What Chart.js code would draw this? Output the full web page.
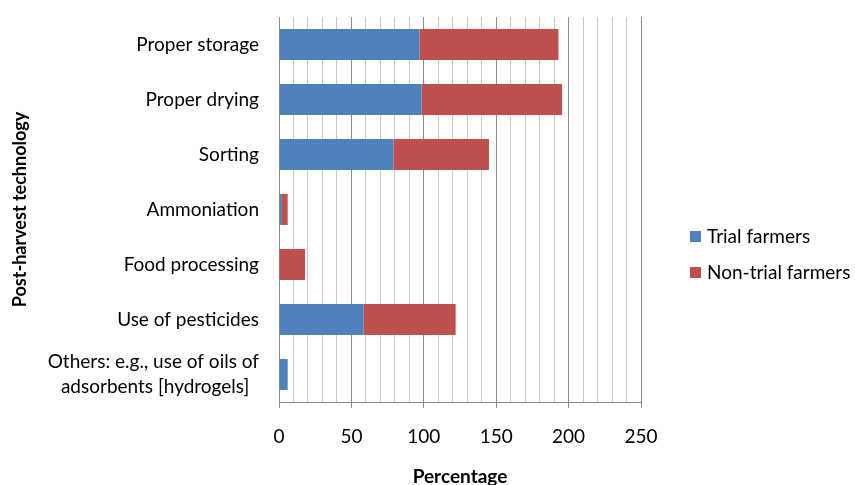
<!DOCTYPE html>
<html>
<head>
<meta charset="utf-8">
<script src="https://cdn.jsdelivr.net/npm/chart.js@4/dist/chart.umd.min.js"></script>
<style>
  html, body { margin: 0; padding: 0; background: #fff; }
  #wrap { width: 855px; height: 485px; position: relative; }
</style>
</head>
<body>
<div id="wrap"><canvas id="c" width="855" height="485"></canvas></div>
<script>
// Post-harvest technologies used, by farmer group (percentage)
const categories = [
  'Proper storage',
  'Proper drying',
  'Sorting',
  'Ammoniation',
  'Food processing',
  'Use of pesticides',
  ['Others: e.g., use of oils of', 'adsorbents [hydrogels]  ']
];
const trialFarmers    = [97, 98.5, 79, 2, 0, 58.5, 6];
const nonTrialFarmers = [96, 97, 66, 4, 18, 63.5, 0];
const seriesNames = ['Trial farmers', 'Non-trial farmers'];
const seriesColors = ['#4F81BD', '#C0504D'];
const xMin = 0, xMax = 250, xMinorStep = 10, xMajorStep = 50;

const FONT = 'Lato, "Open Sans", sans-serif';
const FONT_SIZE = 19;

// Legend drawn to the right of the plot
const sideLegend = {
  id: 'sideLegend',
  afterDraw(chart) {
    const ctx = chart.ctx;
    const area = chart.chartArea;
    const x0 = area.right + 49;
    const ys = [236.5, 272.5];
    ctx.save();
    ctx.font = FONT_SIZE + 'px ' + FONT;
    ctx.textBaseline = 'middle';
    ctx.textAlign = 'left';
    chart.data.datasets.forEach((ds, i) => {
      ctx.fillStyle = ds.backgroundColor;
      ctx.fillRect(x0, ys[i] - 5.5, 11, 11);
      ctx.fillStyle = '#000';
      ctx.fillText(ds.label, x0 + 17, ys[i]);
    });
    ctx.restore();
  }
};

new Chart(document.getElementById('c'), {
  type: 'bar',
  data: {
    labels: categories,
    datasets: [
      { label: seriesNames[0], data: trialFarmers, backgroundColor: seriesColors[0] },
      { label: seriesNames[1], data: nonTrialFarmers, backgroundColor: seriesColors[1] }
    ]
  },
  options: {
    indexAxis: 'y',
    responsive: false,
    animation: false,
    devicePixelRatio: 1,
    barPercentage: 0.5636,
    categoryPercentage: 1,
    layout: { padding: { top: 17, right: 214, bottom: 0, left: 0 } },
    plugins: {
      legend: { display: false },
      tooltip: { enabled: false }
    },
    scales: {
      x: {
        stacked: true,
        min: xMin,
        max: xMax,
        afterFit(scale) { scale.height = 83; },
        ticks: {
          stepSize: xMinorStep,
          autoSkip: false,
          maxRotation: 0,
          padding: 17,
          color: '#000',
          font: { family: FONT, size: FONT_SIZE },
          callback: (v) => (v % xMajorStep === 0 ? String(v) : '')
        },
        grid: {
          drawTicks: true,
          tickLength: 6,
          lineWidth: 1,
          color: (c) => (c.tick && c.tick.value % xMajorStep === 0 ? '#8C8C8C' : '#C8C8C8'),
          tickColor: (c) => (c.tick && c.tick.value % xMajorStep === 0 ? '#8C8C8C' : 'rgba(0,0,0,0)')
        },
        border: { display: true, color: '#8C8C8C', width: 1 },
        title: {
          display: true,
          text: 'Percentage',
          color: '#000',
          font: { family: FONT, size: FONT_SIZE, weight: 'bold', lineHeight: 0.9 },
          padding: { top: 0, bottom: 0 }
        }
      },
      y: {
        stacked: true,
        afterFit(scale) {
          scale.width = 279;
          scale.paddingTop = 0;
          scale.paddingBottom = 0;
        },
        ticks: {
          autoSkip: false,
          padding: 20,
          color: '#000',
          font: { family: FONT, size: FONT_SIZE, lineHeight: 1.3 }
        },
        grid: { display: false, drawTicks: false },
        border: { display: true, color: '#8C8C8C', width: 1 },
        title: {
          display: true,
          text: 'Post-harvest technology',
          color: '#000',
          font: { family: FONT, size: FONT_SIZE - 1, weight: 'bold' },
          padding: { top: 9, bottom: 0 }
        }
      }
    }
  },
  plugins: [sideLegend]
});
</script>
</body>
</html>
